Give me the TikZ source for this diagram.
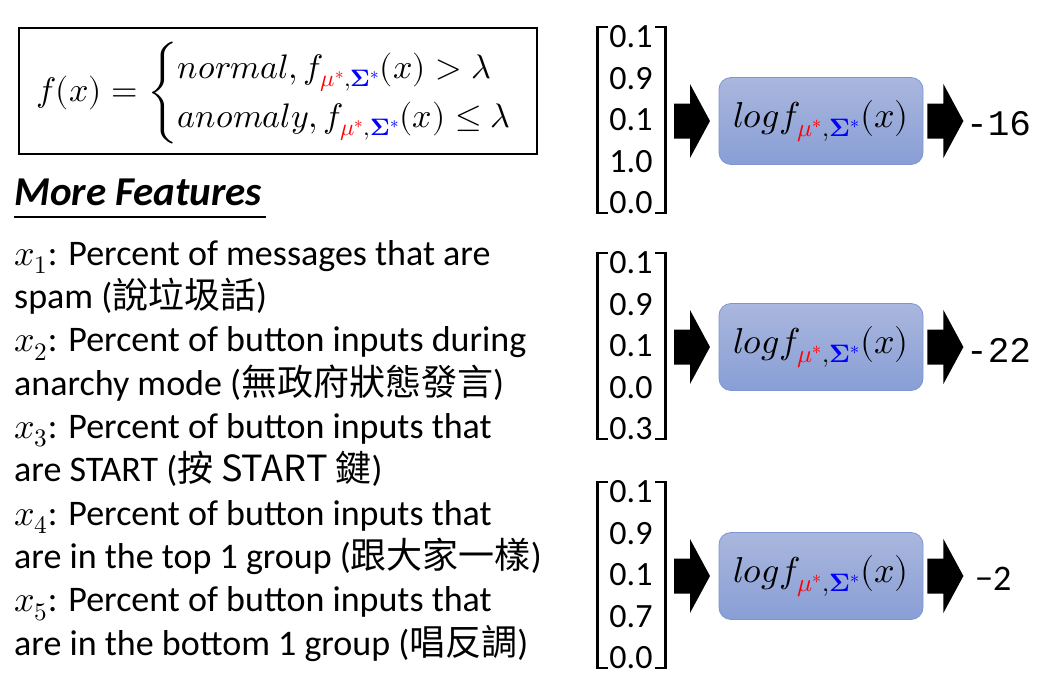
\documentclass[tikz,border=0pt]{standalone}
\usepackage{amsmath}
\usepackage{fontspec}
\usepackage{unicode-math}
\setmainfont{Carlito}
\setmathfont{Latin Modern Math}
\newfontfamily\cjk{Noto Sans CJK TC}
\newfontfamily\monofont{Liberation Mono}
\definecolor{boxtop}{RGB}{170,183,222}
\definecolor{boxbot}{RGB}{136,158,213}
\definecolor{boxline}{RGB}{125,150,210}
\newcommand{\fmus}{f_{\textcolor{red}{\mu^{*}},\textcolor{blue}{\symbf{\Sigma}^{*}}}}
\tikzset{
  feat/.style={anchor=base west, inner sep=0pt, font=\fontsize{36}{40}\selectfont},
  vnum/.style={inner sep=0pt, font=\fontsize{34}{38}\selectfont},
  logbox/.style={draw=boxline, line width=0.8pt, rounded corners=12pt,
    top color=boxtop, bottom color=boxbot, minimum width=204pt, minimum height=87pt,
    inner sep=0pt, font=\fontsize{36}{40}\selectfont},
  outnum/.style={inner sep=0pt, anchor=west},
  brk/.style={line width=2.6pt},
  blockarrow/.pic={\fill (0,-17.5) -- (16,-17.5) -- (16,-37) -- (36,0) -- (16,37) -- (16,17.5) -- (0,17.5) -- cycle;}
}
\begin{document}
\begin{tikzpicture}[x=1pt,y=-1pt]
\useasboundingbox (0,0) rectangle (1037,680);

% decision rule in a frame
\node[draw, line width=1.5pt, minimum width=518pt, minimum height=126pt, inner sep=0pt] (frame) at (278,91) {};
\node[anchor=west, inner sep=0pt, font=\fontsize{34}{40}\selectfont] (rule) at (36,93)
  {$f(x)=\left\{\renewcommand{\arraystretch}{1.22}\begin{array}{@{}l@{}}
   normal, \fmus(x)>\lambda\\
   anomaly, \fmus(x)\le\lambda
   \end{array}\right.$};

% feature list
\node[anchor=base west, inner sep=0pt, font=\fontsize{41}{44}\selectfont\bfseries\itshape] (head) at (14,205) {More Features};
\draw[line width=1.4pt] (14,217) -- (266,217);

\node[feat] (l1) at (14,265) {$x_1$: Percent of messages that are};
\node[feat] (l2) at (14,308) {spam ({\cjk 說垃圾話})};
\node[feat] (l3) at (14,351.5) {$x_2$: Percent of button inputs during};
\node[feat] (l4) at (14,395) {anarchy mode ({\cjk 無政府狀態發言})};
\node[feat] (l5) at (14,438) {$x_3$: Percent of button inputs that};
\node[feat] (l6) at (14,481.5) {are START ({\cjk 按 START 鍵})};
\node[feat] (l7) at (14,525) {$x_4$: Percent of button inputs that};
\node[feat] (l8) at (14,568) {are in the top 1 group ({\cjk 跟大家一樣})};
\node[feat] (l9) at (14,611.5) {$x_5$: Percent of button inputs that};
\node[feat] (l10) at (14,655) {are in the bottom 1 group ({\cjk 唱反調})};

% three feature vectors, each scored by the log density
\foreach \i/\cy/\vals/\out/\ofont/\ox in {
    1/120/{0.1,0.9,0.1,1.0,0.0}/{-16}/\monofont/966,
    2/346/{0.1,0.9,0.1,0.0,0.3}/{-22}/\monofont/966,
    3/575/{0.1,0.9,0.1,0.7,0.0}/{−2}/\rmfamily/975}{
  \foreach \v [count=\k] in \vals {
    \node[vnum] (v\i-\k) at (631,{\cy+(\k-3)*41.5}) {\v};
  }
  \draw[brk] (608,\cy-93) -- (597.5,\cy-93) -- (597.5,\cy+93) -- (608,\cy+93);
  \draw[brk] (655,\cy-93) -- (665.5,\cy-93) -- (665.5,\cy+93) -- (655,\cy+93);
  \coordinate (a\i) at (674,\cy+1);
  \pic at (a\i) {blockarrow};
  \node[logbox] (box\i) at (821,\cy+1) {$logf_{\textcolor{red}{\mu^{*}},\textcolor{blue}{\symbf{\Sigma}^{*}}}(x)$};
  \coordinate (b\i) at (box\i.east);
  \pic at ([xshift=4pt]b\i) {blockarrow};
  \node[outnum, font=\fontsize{36}{40}\ofont] (o\i) at (\ox,\cy+4) {\out};
}
\end{tikzpicture}
\end{document}
